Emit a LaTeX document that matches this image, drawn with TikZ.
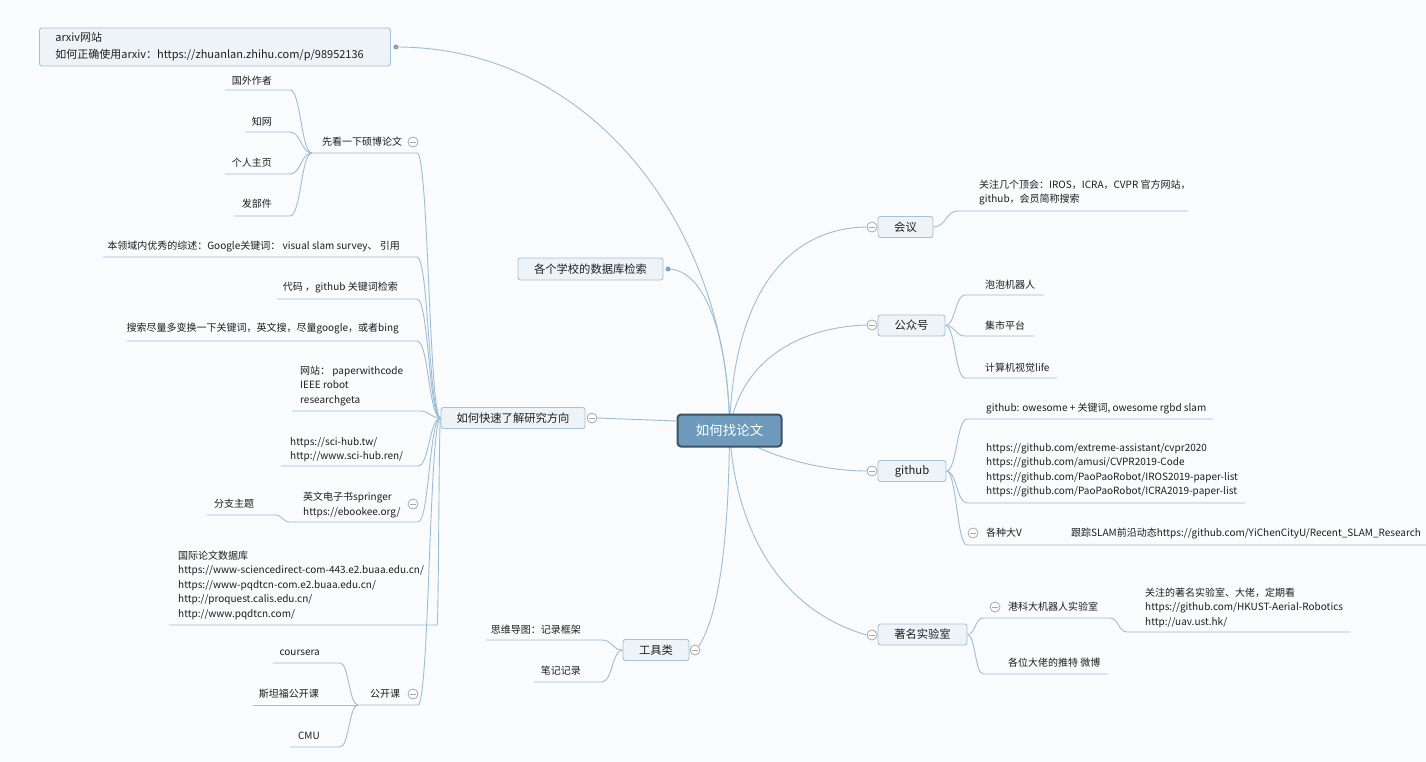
\documentclass[tikz,border=0pt]{standalone}
\usepackage{fontspec}
\setmainfont{Noto Sans CJK SC}
\usetikzlibrary{calc}
\definecolor{ln}{HTML}{9DBDD5}
\definecolor{bfill}{HTML}{EEF3F7}
\definecolor{bdraw}{HTML}{A6C2D8}
\definecolor{rfill}{HTML}{6E9BBC}
\definecolor{rdraw}{HTML}{3E5366}
\definecolor{txt}{HTML}{1E1E1E}
\definecolor{bg}{HTML}{FAFBFC}
\definecolor{cgray}{HTML}{A8A8A8}
\definecolor{dotc}{HTML}{7FA3BF}
\pgfdeclarelayer{bgfill}
\pgfdeclarelayer{background}
\pgfsetlayers{bgfill,background,main}
\tikzset{
  conn/.style={draw=ln, line width=0.9pt},
  sc/.style={to path={let \p1=(\tikztostart), \p2=(\tikztotarget) in .. controls ({0.5*\x1+0.5*\x2},\y1) and ({0.5*\x1+0.5*\x2},\y2) .. (\tikztotarget)}},
  mainbox/.style={draw=bdraw, fill=bfill, line width=0.9pt, rounded corners=2.5pt, font=\fontsize{11.3}{14}\selectfont, text=txt, inner sep=0pt, minimum height=21pt},
  rootbox/.style={draw=rdraw, fill=rfill, line width=2pt, rounded corners=3.5pt, text=white, font=\fontsize{13.5}{16}\selectfont, minimum width=104pt, minimum height=32pt, inner sep=0pt},
  leaf/.style={inner sep=0pt, text=txt, font=\fontsize{10}{14.5}\selectfont, align=left},
  collapse/.style={circle, draw=cgray, fill=white, line width=0.8pt, minimum size=10pt, inner sep=0pt,
    path picture={\draw[cgray, line width=0.8pt] ([xshift=-3pt]path picture bounding box.center) -- ([xshift=3pt]path picture bounding box.center);}},
  dotm/.style={circle, fill=dotc, minimum size=5pt, inner sep=0pt},
}
\begin{document}
\begin{tikzpicture}[x=1pt,y=-1pt]
\begin{pgfonlayer}{bgfill}
\fill[bg] (0,0) rectangle (1426,762);
\end{pgfonlayer}
\useasboundingbox (0,0) rectangle (1426,762);

% main nodes
\node[rootbox] (root) at (729.5,430.5) {如何找论文};
\node[mainbox, anchor=west, align=left, text width=319pt, inner xsep=16pt, minimum height=38pt, font=\fontsize{11}{17}\selectfont] (arxiv) at (39,47) {arxiv网站\\如何正确使用arxiv：https://zhuanlan.zhihu.com/p/98952136};
\node[mainbox, minimum width=145pt, minimum height=22pt] (school) at (590.5,269) {各个学校的数据库检索};
\node[mainbox, minimum width=144pt] (fast) at (513,418) {如何快速了解研究方向};
\node[mainbox, minimum width=66pt] (tools) at (656,650) {工具类};
\node[mainbox, minimum width=55pt] (meet) at (905.5,227) {会议};
\node[mainbox, minimum width=67pt] (wx) at (911.5,325.5) {公众号};
\node[mainbox, minimum width=68pt] (gh) at (912,471) {github};
\node[mainbox, minimum width=89pt] (lab) at (922.5,634.5) {著名实验室};

% markers
\node[collapse] (cfast) at (592,418) {};
\node[collapse] (ctools) at (695,650) {};
\node[collapse] (cmeet) at (872,227) {};
\node[collapse] (cwx) at (872,325) {};
\node[collapse] (cgh) at (872,471) {};
\node[collapse] (clab) at (872,635) {};
\node[collapse] (cq) at (413,142) {};
\node[collapse] (cebook) at (413,504) {};
\node[collapse] (copen) at (413,694) {};
\node[collapse] (cbigv) at (973,533) {};
\node[collapse] (chk) at (995,607) {};
\node[dotm] (adot) at (arxiv.east) [xshift=5pt] {};
\node[dotm] (sdot) at (668,269) {};

% left leaves
\node[leaf, anchor=east] (q1) at (272,81) {国外作者};
\node[leaf, anchor=east] (q2) at (272,122) {知网};
\node[leaf, anchor=east] (q3) at (272,163) {个人主页};
\node[leaf, anchor=east] (q4) at (272,204) {发部件};
\node[leaf, anchor=west] (q) at (322,142) {先看一下硕博论文};
\node[leaf, anchor=east] (f1) at (400,247) {本领域内优秀的综述：Google关键词： visual slam survey、 引用};
\node[leaf, anchor=east] (f2) at (398,288) {代码 ，github 关键词检索};
\node[leaf, anchor=east] (f3) at (399,329) {搜索尽量多变换一下关键词，英文搜，尽量google，或者bing};
\node[leaf, anchor=west] (f4) at (300,386) {网站： paperwithcode\\IEEE robot\\researchgeta};
\node[leaf, anchor=west] (f5) at (290,449.5) {https://sci-hub.tw/\\http://www.sci-hub.ren/};
\node[leaf, anchor=west] (f6) at (303,505) {英文电子书springer\\https://ebookee.org/};
\node[leaf, anchor=west] (f6a) at (214,504) {分支主题};
\node[leaf, anchor=west] (f7) at (178,585) {国际论文数据库\\https://www-sciencedirect-com-443.e2.buaa.edu.cn/\\https://www-pqdtcn-com.e2.buaa.edu.cn/\\http://proquest.calis.edu.cn/\\http://www.pqdtcn.com/};
\node[leaf, anchor=west] (f8) at (370,694) {公开课};
\node[leaf, anchor=east] (o1) at (320,653) {coursera};
\node[leaf, anchor=east] (o2) at (319,694) {斯坦福公开课};
\node[leaf, anchor=east] (o3) at (320,736) {CMU};
\node[leaf, anchor=east] (t1) at (581,630) {思维导图：记录框架};
\node[leaf, anchor=east] (t2) at (581,671) {笔记记录};

% right leaves
\node[leaf, anchor=west] (m1) at (979,192.5) {关注几个顶会：IROS，ICRA，CVPR 官方网站，\\github，会员简称搜索};
\node[leaf, anchor=west] (w1) at (985,285) {泡泡机器人};
\node[leaf, anchor=west] (w2) at (985,326) {集市平台};
\node[leaf, anchor=west] (w3) at (985,368) {计算机视觉life};
\node[leaf, anchor=west] (g1) at (986,409) {github: owesome + 关键词, owesome rgbd slam};
\node[leaf, anchor=west] (g2) at (986,470.5) {https://github.com/extreme-assistant/cvpr2020\\https://github.com/amusi/CVPR2019-Code\\https://github.com/PaoPaoRobot/IROS2019-paper-list\\https://github.com/PaoPaoRobot/ICRA2019-paper-list};
\node[leaf, anchor=west] (g3) at (986,533) {各种大V};
\node[leaf, anchor=west] (g3a) at (1071,534) {跟踪SLAM前沿动态https://github.com/YiChenCityU/Recent\_SLAM\_Research};
\node[leaf, anchor=west] (l1) at (1008,607) {港科大机器人实验室};
\node[leaf, anchor=west] (l1a) at (1145,607.5) {关注的著名实验室、大佬，定期看\\https://github.com/HKUST-Aerial-Robotics\\http://uav.ust.hk/};
\node[leaf, anchor=west] (l2) at (1008,663) {各位大佬的推特 微博};

\begin{pgfonlayer}{background}
% root connectors
\draw[conn] (adot.center) .. controls (600,47) and (730,240) .. (root.center);
\draw[conn] (sdot.center) .. controls (706,269) and (729,340) .. (root.center);
\draw[conn] (cfast.east) -- ([yshift=9.5pt]root.west);
\draw[conn] (ctools.45) .. controls (722,610) and (729,520) .. (root.center);
\draw[conn] (root.center) .. controls (733,290) and (790,228) .. (cmeet.west);
\draw[conn] (root.center) .. controls (740,360) and (800,327) .. (cwx.west);
\draw[conn] (root.center) .. controls (760,455) and (820,471) .. (cgh.west);
\draw[conn] (root.center) .. controls (735,530) and (780,610) .. (clab.west);

% left branch underlines
\coordinate (jq) at (312,153);
\draw[conn] (225,90) -- (290,90) to[sc] (jq);
\draw[conn] (245,132) -- (290,132) to[sc] (jq);
\draw[conn] (225,174) -- (290,174) to[sc] (jq);
\draw[conn] (234,216) -- (290,216) to[sc] (jq);
\draw[conn] (jq) -- (417,153) to[sc] (fast.west);
\draw[conn] (103,257) -- (417,257) to[sc] (fast.west);
\draw[conn] (277,299) -- (417,299) to[sc] (fast.west);
\draw[conn] (127,341) -- (417,341) to[sc] (fast.west);
\draw[conn] (292,411) -- (420,411) to[sc] (fast.west);
\draw[conn] (281,466) -- (418,466) to[sc] (fast.west);
\coordinate (je) at (290,522);
\draw[conn] (207,515) -- (275,515) to[sc] (je);
\draw[conn] (je) -- (418,522) to[sc] (fast.west);
\draw[conn] (169,625) -- (437,625) to[sc] (fast.west);
\coordinate (jo) at (358,705);
\draw[conn] (273,663) -- (340,663) to[sc] (jo);
\draw[conn] (253,705) -- (jo);
\draw[conn] (290,747) -- (340,747) to[sc] (jo);
\draw[conn] (jo) -- (418,705) to[sc] (fast.west);
\draw[conn] (486,640) -- (602,640) to[sc] (tools.west);
\draw[conn] (534,682) -- (602,682) to[sc] (tools.west);

% right branch underlines
\draw[conn] (meet.east) to[sc] (958,211) -- (1188,211);
\draw[conn] (wx.east) to[sc] (965,295) -- (1044,295);
\draw[conn] (wx.east) to[sc] (965,336) -- (1034,336);
\draw[conn] (wx.east) to[sc] (965,378) -- (1057,378);
\draw[conn] (gh.east) to[sc] (967,419) -- (1213,419);
\draw[conn] (gh.east) to[sc] (967,503) -- (1245,503);
\draw[conn] (gh.east) to[sc] (967,545) -- (1426,545);
\draw[conn] (lab.east) to[sc] (983,618) -- (1110,618) to[sc] (1127,632) -- (1350,632);
\draw[conn] (lab.east) to[sc] (983,674) -- (1108,674);
\end{pgfonlayer}
\end{tikzpicture}
\end{document}
